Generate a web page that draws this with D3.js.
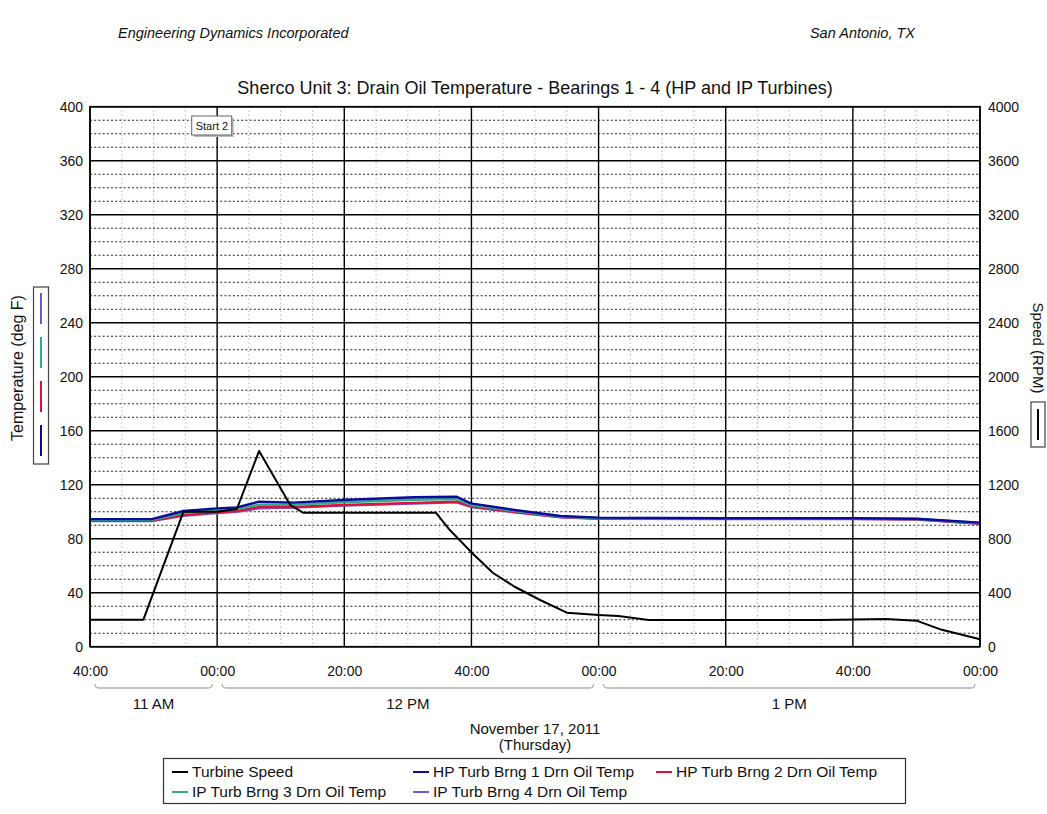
<!DOCTYPE html>
<html>
<head>
<meta charset="utf-8">
<script src="https://cdn.jsdelivr.net/npm/d3@7"></script>
<style>
  body { margin: 0; background: #fff; }
  text { font-family: "Liberation Sans", Arial, sans-serif; fill: #111; }
</style>
</head>
<body>
<svg id="chart" width="1047" height="814"></svg>
<script>
// ---- data -------------------------------------------------------------
// Turbine speed (RPM) samples, clock time on Nov 17, 2011
const speedTimes = ["11:40:00","11:48:24","11:54:42","12:00:00","12:03:06","12:06:36",
  "12:11:30","12:13:30","12:34:24","12:36:36","12:39:54","12:43:24","12:46:48",
  "12:50:48","12:55:00","13:00:00","13:03:06","13:07:54","13:35:00","13:45:12",
  "13:50:00","13:54:00","14:00:00"];
const speedRpm = [200, 200, 1000, 1000, 1020, 1450,
  1050, 993, 993, 864, 704, 546, 444,
  346, 252, 235, 227, 198, 198, 205,
  193, 125, 55];

// Bearing drain oil temperatures (deg F)
const tempTimes = ["11:40:00","11:49:42","11:54:42","12:00:00","12:03:06","12:06:36",
  "12:12:00","12:19:48","12:31:00","12:37:42","12:39:54","12:46:48","12:54:00",
  "12:59:54","13:20:00","13:40:00","13:50:00","14:00:00"];
const hpBrng1 = [94.5, 94.5, 100.5, 102.5, 103.2, 107.4, 106.7, 108.7, 110.7, 111.1, 106.2, 101.3, 96.8, 95.6, 95.1, 95.1, 94.8, 91.9];
const hpBrng2 = [93.5, 93.5, 97.5, 99.5, 100.5, 103.5, 103.5, 105.0, 106.5, 107.5, 104.0, 99.8, 96.0, 95.0, 94.7, 94.7, 94.4, 91.3];
const ipBrng3 = [94.0, 94.0, 99.0, 101.0, 102.0, 105.2, 105.2, 107.0, 108.8, 109.3, 105.0, 100.5, 96.3, 95.3, 95.0, 95.0, 94.6, 91.6];
const ipBrng4 = [93.0, 93.0, 97.0, 99.0, 100.0, 102.5, 103.0, 104.5, 106.0, 107.0, 103.5, 99.5, 95.8, 94.8, 94.5, 94.5, 94.2, 91.0];

const seriesNames = ["Turbine Speed", "HP Turb Brng 1 Drn Oil Temp", "HP Turb Brng 2 Drn Oil Temp",
  "IP Turb Brng 3 Drn Oil Temp", "IP Turb Brng 4 Drn Oil Temp"];
const seriesColors = ["#000000", "#0a0a9c", "#e0103c", "#2fae86", "#6a5ad8"];

const tempTicks = [0, 40, 80, 120, 160, 200, 240, 280, 320, 360, 400];
const speedTicks = [0, 400, 800, 1200, 1600, 2000, 2400, 2800, 3200, 3600, 4000];

const hourLabels = ["11 AM", "12 PM", "1 PM"];
const hourStarts = ["11:40:00", "12:00:00", "13:00:00"];
const hourEnds   = ["12:00:00", "13:00:00", "14:00:00"];

const timeStart = "11:40:00", timeEnd = "14:00:00";
const eventLabel = "Start 2", eventTime = "11:56:00";

// ---- layout -----------------------------------------------------------
const svg = d3.select("#chart");
const L = 90, R = 980, T = 106.7, B = 646.7;
const parse = d3.timeParse("%H:%M:%S");

const x = d3.scaleTime().domain([parse(timeStart), parse(timeEnd)]).range([L, R]);
const yT = d3.scaleLinear().domain([0, 400]).range([B, T]);
const yS = d3.scaleLinear().domain([0, 4000]).range([B, T]);

svg.append("rect").attr("width", 1047).attr("height", 814).attr("fill", "#fff");

// header
svg.append("text").attr("x", 118).attr("y", 38).attr("font-size", 14.5)
  .attr("font-style", "italic").text("Engineering Dynamics Incorporated");
svg.append("text").attr("x", 915).attr("y", 38).attr("font-size", 14.5)
  .attr("font-style", "italic").attr("text-anchor", "end").text("San Antonio, TX");

// title
svg.append("text").attr("x", 535).attr("y", 94).attr("font-size", 18)
  .attr("text-anchor", "middle")
  .text("Sherco Unit 3: Drain Oil Temperature - Bearings 1 - 4 (HP and IP Turbines)");

// ---- grid -------------------------------------------------------------
const g = svg.append("g");
const minorTimes = x.ticks(d3.timeMinute.every(5));
const majorTimes = x.ticks(d3.timeMinute.every(20));
const majorSet = new Set(majorTimes.map(d => +d));

g.selectAll(".vminor").data(minorTimes.filter(d => !majorSet.has(+d)))
  .join("line").attr("x1", d => x(d)).attr("x2", d => x(d)).attr("y1", T).attr("y2", B)
  .attr("stroke", "#999").attr("stroke-width", 1).attr("stroke-dasharray", "1,3");

const minorTemps = d3.range(10, 400, 10).filter(v => v % 40 !== 0);
g.selectAll(".hminor").data(minorTemps)
  .join("line").attr("x1", L).attr("x2", R).attr("y1", d => yT(d)).attr("y2", d => yT(d))
  .attr("stroke", "#222").attr("stroke-width", 1.1).attr("stroke-dasharray", "2,2.2");

g.selectAll(".hmajor").data(tempTicks)
  .join("line").attr("x1", L).attr("x2", R).attr("y1", d => yT(d)).attr("y2", d => yT(d))
  .attr("stroke", "#000").attr("stroke-width", 1.4);
g.selectAll(".vmajor").data(majorTimes)
  .join("line").attr("x1", d => x(d)).attr("x2", d => x(d)).attr("y1", T).attr("y2", B)
  .attr("stroke", "#000").attr("stroke-width", 1.4);

// ---- axes -------------------------------------------------------------
const axisL = svg.append("g").attr("transform", `translate(${L - 7},0)`)
  .call(d3.axisLeft(yT).tickValues(tempTicks).tickSize(0).tickPadding(0)
    .tickFormat(d3.format("d")));
const axisR = svg.append("g").attr("transform", `translate(${R + 8},0)`)
  .call(d3.axisRight(yS).tickValues(speedTicks).tickSize(0).tickPadding(0)
    .tickFormat(d3.format("d")));
const axisB = svg.append("g").attr("transform", `translate(0,${B + 19})`)
  .call(d3.axisBottom(x).tickValues(majorTimes).tickFormat(d3.timeFormat("%M:%S"))
    .tickSize(0).tickPadding(0));
[axisL, axisR, axisB].forEach(a => {
  a.select(".domain").remove();
  a.selectAll("text").attr("font-size", 14).attr("fill", "#111")
    .style("font-family", "'Liberation Sans', Arial, sans-serif");
});

// hour brackets under the time axis
const brY = 688;
hourLabels.forEach((lab, i) => {
  const x1 = x(parse(hourStarts[i])) + 5, x2 = x(parse(hourEnds[i])) - 5;
  svg.append("path")
    .attr("d", `M${x1},${brY - 4} Q${x1},${brY} ${x1 + 4},${brY} L${x2 - 4},${brY} Q${x2},${brY} ${x2},${brY - 4}`)
    .attr("fill", "none").attr("stroke", "#b0b0b0").attr("stroke-width", 1.3);
  svg.append("text").attr("x", (x1 + x2) / 2).attr("y", 709).attr("font-size", 15)
    .attr("text-anchor", "middle").text(lab);
});
svg.append("text").attr("x", 535).attr("y", 734).attr("font-size", 15)
  .attr("text-anchor", "middle").text("November 17, 2011");
svg.append("text").attr("x", 535).attr("y", 750).attr("font-size", 15)
  .attr("text-anchor", "middle").text("(Thursday)");

// left axis title and colour key
svg.append("text").attr("transform", "translate(23,368) rotate(-90)")
  .attr("font-size", 16).attr("text-anchor", "middle").text("Temperature (deg F)");
svg.append("rect").attr("x", 33.5).attr("y", 287).attr("width", 15).attr("height", 177)
  .attr("fill", "#fff").attr("stroke", "#444").attr("stroke-width", 1.2);
const keyOrder = [4, 3, 2, 1];
keyOrder.forEach((si, k) => {
  const y0 = 293 + k * 44;
  svg.append("line").attr("x1", 41).attr("x2", 41).attr("y1", y0).attr("y2", y0 + 31)
    .attr("stroke", seriesColors[si]).attr("stroke-width", 2);
});

// right axis title and key
svg.append("text").attr("transform", "translate(1033,348) rotate(90)")
  .attr("font-size", 15).attr("text-anchor", "middle").text("Speed (RPM)");
svg.append("rect").attr("x", 1031).attr("y", 402).attr("width", 14).attr("height", 45)
  .attr("fill", "#fff").attr("stroke", "#444").attr("stroke-width", 1.2);
svg.append("line").attr("x1", 1038).attr("x2", 1038).attr("y1", 409).attr("y2", 440)
  .attr("stroke", seriesColors[0]).attr("stroke-width", 2);

// ---- series -----------------------------------------------------------
const plot = svg.append("g");
const tempSeries = [hpBrng1, hpBrng2, ipBrng3, ipBrng4];
const tT = tempTimes.map(parse);
const drawOrder = [3, 1, 2, 0];
drawOrder.forEach(i => {
  const vals = tempSeries[i];
  plot.append("path")
    .datum(vals.map((v, j) => [tT[j], v]))
    .attr("fill", "none").attr("stroke", seriesColors[i + 1]).attr("stroke-width", 2.4)
    .attr("stroke-linejoin", "round")
    .attr("d", d3.line().x(d => x(d[0])).y(d => yT(d[1])));
});
const tS = speedTimes.map(parse);
plot.append("path")
  .datum(speedRpm.map((v, j) => [tS[j], v]))
  .attr("fill", "none").attr("stroke", seriesColors[0]).attr("stroke-width", 2)
  .attr("stroke-linejoin", "round")
  .attr("d", d3.line().x(d => x(d[0])).y(d => yS(d[1])));

// plot frame
svg.append("rect").attr("x", L).attr("y", T).attr("width", R - L).attr("height", B - T)
  .attr("fill", "none").attr("stroke", "#000").attr("stroke-width", 1.6);

// event marker label
const ex = x(parse(eventTime));
svg.append("rect").attr("x", ex + 2).attr("y", 118).attr("width", 40).attr("height", 19)
  .attr("fill", "#bbb");
svg.append("rect").attr("x", ex).attr("y", 116).attr("width", 40).attr("height", 19)
  .attr("fill", "#fff").attr("stroke", "#666").attr("stroke-width", 1);
svg.append("text").attr("x", ex + 4).attr("y", 130).attr("font-size", 11).text(eventLabel);

// ---- legend -----------------------------------------------------------
svg.append("rect").attr("x", 163.5).attr("y", 758.5).attr("width", 742).attr("height", 45)
  .attr("fill", "#fff").attr("stroke", "#333").attr("stroke-width", 1.2);
const legX = [172, 413, 656, 172, 413];
const legY = [772, 772, 772, 792, 792];
seriesNames.forEach((name, i) => {
  svg.append("line").attr("x1", legX[i]).attr("x2", legX[i] + 16)
    .attr("y1", legY[i]).attr("y2", legY[i])
    .attr("stroke", seriesColors[i]).attr("stroke-width", 2);
  svg.append("text").attr("x", legX[i] + 20).attr("y", legY[i] + 5)
    .attr("font-size", 15.5).text(name);
});
</script>
</body>
</html>
